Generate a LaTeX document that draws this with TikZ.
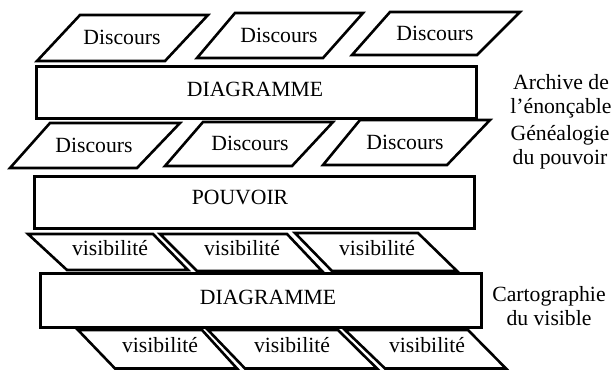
\documentclass[tikz,border=0pt]{standalone}
\usepackage{fontspec}
\setmainfont{Liberation Serif}
\begin{document}
\begin{tikzpicture}[x=1pt,y=-1pt,
  boxframe/.style={draw=black,line width=3pt,line join=miter},
  paraframe/.style={draw=black,line width=2.6pt,line join=miter},
  lbl/.style={inner sep=0pt,font=\fontsize{21.7}{24}\selectfont},
  side/.style={inner sep=0pt,align=center,font=\fontsize{21.7}{24}\selectfont}]
\useasboundingbox (0,0) rectangle (613,370);
% Row 1: Discours
\draw[paraframe] (37,61) -- (165,61) -- (208,15) -- (80,15) -- cycle;
\draw[paraframe] (197,58) -- (323,58) -- (363,13) -- (235,13) -- cycle;
\draw[paraframe] (352,55) -- (477,55) -- (520,12) -- (390,12) -- cycle;
\node[lbl] (d1) at (122,37) {Discours};
\node[lbl] (d2) at (279,35) {Discours};
\node[lbl] (d3) at (435,33) {Discours};
% DIAGRAMME 1
\draw[boxframe] (36,66) rectangle (476,118);
\node[lbl] (diag1) at (255,89) {DIAGRAMME};
% Row 2: Discours
\draw[paraframe] (10,168) -- (137,168) -- (180,123) -- (50,123) -- cycle;
\draw[paraframe] (165,166) -- (292,166) -- (333,122) -- (203,122) -- cycle;
\draw[paraframe] (323,165) -- (447,165) -- (490,120) -- (360,120) -- cycle;
\node[lbl] (e1) at (94,145) {Discours};
\node[lbl] (e2) at (250,143) {Discours};
\node[lbl] (e3) at (405,142) {Discours};
% POUVOIR
\draw[boxframe] (34,176) rectangle (474,228);
\node[lbl] (pouv) at (240,197) {POUVOIR};
% Row 3: visibilite
\draw[paraframe] (28,234) -- (153,234) -- (188,270) -- (67,270) -- cycle;
\draw[paraframe] (160,234) -- (287,234) -- (322,271) -- (197,271) -- cycle;
\draw[paraframe] (295,233) -- (418,233) -- (457,271) -- (332,271) -- cycle;
\node[lbl] (v1) at (110,248) {visibilité};
\node[lbl] (v2) at (242,248) {visibilité};
\node[lbl] (v3) at (377,248) {visibilité};
% DIAGRAMME 2
\draw[boxframe] (40,273) rectangle (481,327);
\node[lbl] (diag2) at (268,297) {DIAGRAMME};
% Row 4: visibilite
\draw[paraframe] (78,330) -- (202,330) -- (237,368.5) -- (115,368.5) -- cycle;
\draw[paraframe] (208,330) -- (338,330) -- (377,368.5) -- (245,368.5) -- cycle;
\draw[paraframe] (345,330) -- (468,330) -- (506,368.5) -- (385,368.5) -- cycle;
\node[lbl] (w1) at (160,345) {visibilité};
\node[lbl] (w2) at (292,345) {visibilité};
\node[lbl] (w3) at (427,345) {visibilité};
% Side labels
\node[side] (arch) at (561,96) {Archive de\\l’énonçable};
\node[side] (gene) at (560,147) {Généalogie\\du pouvoir};
\node[side] (cart) at (549,306) {Cartographie\\du visible};
\end{tikzpicture}
\end{document}
